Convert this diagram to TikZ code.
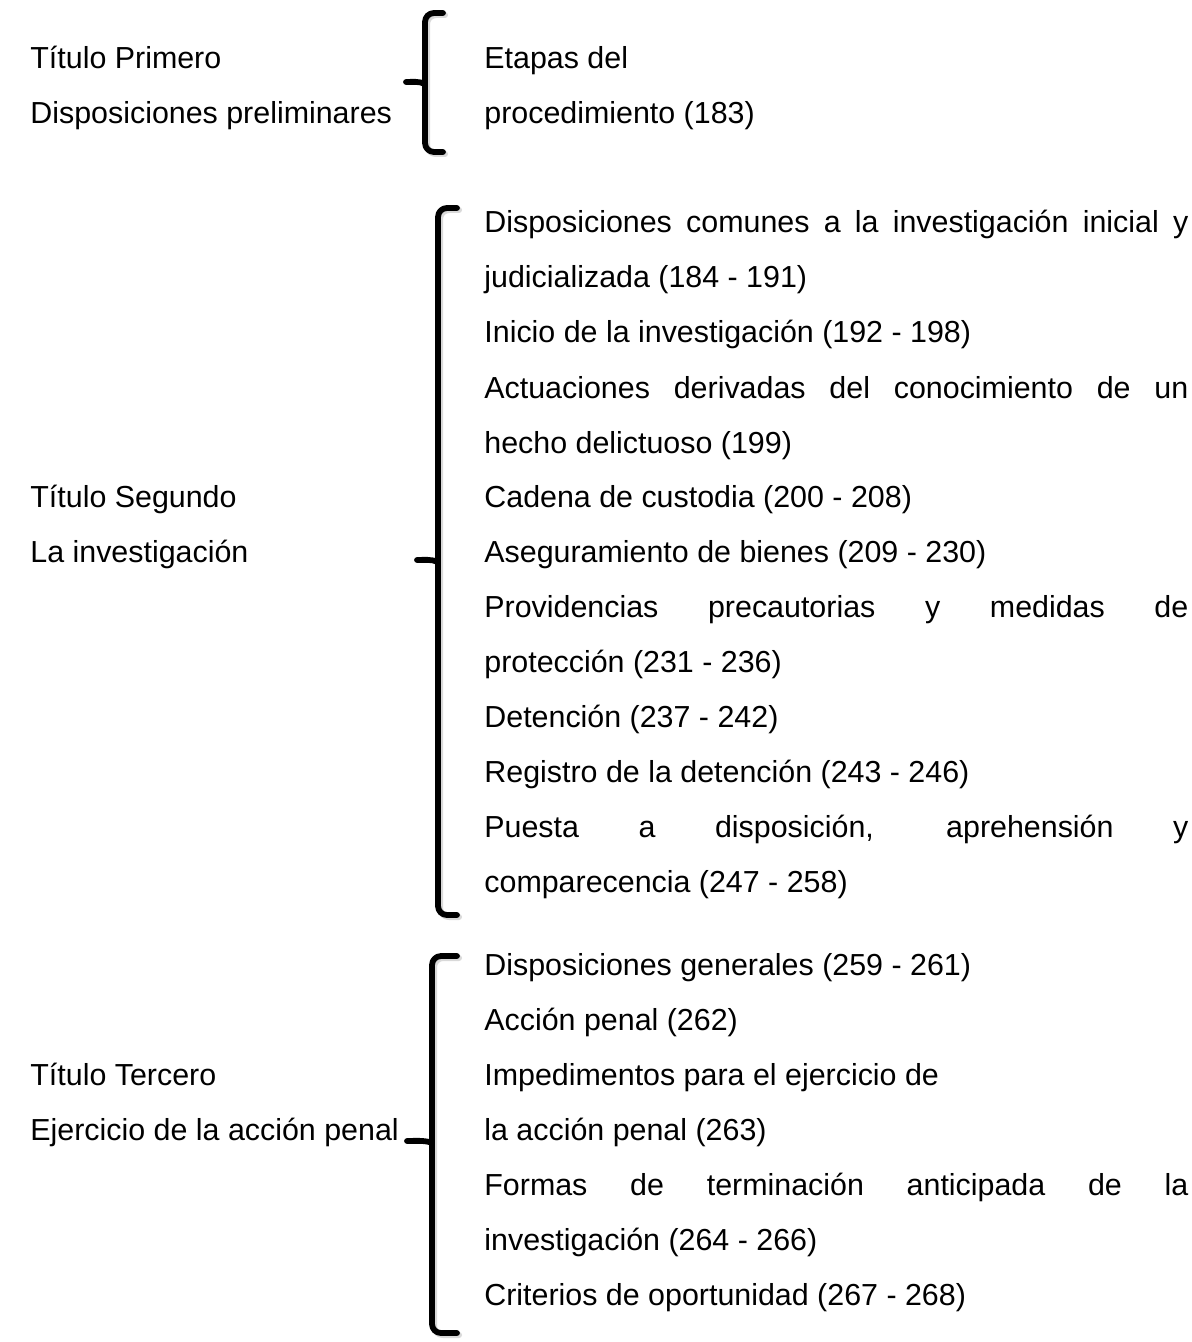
\documentclass[tikz,border=0pt]{standalone}
\usepackage{fontspec}
\setmainfont{Liberation Sans}
\begin{document}
\begin{tikzpicture}[x=0.5pt,y=-0.5pt,
  txt/.style={anchor=base west, inner sep=0pt, font=\fontsize{15.2pt}{18pt}\selectfont},
  brace/.style={line width=2.9pt, line cap=round, line join=round, rounded corners=4.5pt},
  shade/.style={line width=3pt, line cap=round, line join=round, rounded corners=4.5pt, black!15}]
\useasboundingbox (0,0) rectangle (1192,1342);
\fill[white] (0,0) rectangle (1192,1342);
\newcommand\jline[1]{\makebox[352pt][s]{#1}}

% Left column
\node[txt] (t1a) at (30,69) {Título Primero};
\node[txt] (t1b) at (30,124) {Disposiciones preliminares};
\node[txt] (t2a) at (30,507) {Título Segundo};
\node[txt] (t2b) at (30,562) {La investigación};
\node[txt] (t3a) at (30,1085) {Título Tercero};
\node[txt] (t3b) at (30,1140) {Ejercicio de la acción penal};

% Group 1
\node[txt] (a1) at (484,69) {Etapas del};
\node[txt] (a2) at (484,124) {procedimiento (183)};

% Group 2
\node[txt] (b1) at (484,233) {\jline{Disposiciones comunes a la investigación inicial y}};
\node[txt] (b2) at (484,288) {judicializada (184 - 191)};
\node[txt] (b3) at (484,343) {Inicio de la investigación (192 - 198)};
\node[txt] (b4) at (484,398) {\jline{Actuaciones derivadas del conocimiento de un}};
\node[txt] (b5) at (484,453) {hecho delictuoso (199)};
\node[txt] (b6) at (484,507) {Cadena de custodia (200 - 208)};
\node[txt] (b7) at (484,562) {Aseguramiento de bienes (209 - 230)};
\node[txt] (b8) at (484,617) {\jline{Providencias precautorias y medidas de}};
\node[txt] (b9) at (484,672) {protección (231 - 236)};
\node[txt] (b10) at (484,727) {Detención (237 - 242)};
\node[txt] (b11) at (484,782) {Registro de la detención (243 - 246)};
\node[txt] (b12) at (484,837) {\jline{Puesta a disposición, aprehensión y}};
\node[txt] (b13) at (484,892) {comparecencia (247 - 258)};

% Group 3
\node[txt] (c1) at (484,975) {Disposiciones generales (259 - 261)};
\node[txt] (c2) at (484,1030) {Acción penal (262)};
\node[txt] (c3) at (484,1085) {Impedimentos para el ejercicio de};
\node[txt] (c4) at (484,1140) {la acción penal (263)};
\node[txt] (c5) at (484,1195) {\jline{Formas de terminación anticipada de la}};
\node[txt] (c6) at (484,1250) {investigación (264 - 266)};
\node[txt] (c7) at (484,1305) {Criterios de oportunidad (267 - 268)};

% Braces
\foreach \x/\top/\bot/\mid/\tip/\hook in {425/13/152/84/406/443, 438/208/915/562/417/457, 432/956/1333/1143/407/457}{
  \draw[shade] (\hook+2,\top+2) -- (\x+2,\top+2) -- (\x+2,\bot+2) -- (\hook+2,\bot+2);
  \draw[brace] (\hook,\top) -- (\x,\top) -- (\x,\bot) -- (\hook,\bot);
  \draw[brace] (\x,\mid) .. controls (\x-6,\mid-3) and (\tip+6,\mid-2) .. (\tip,\mid-2);
}
\end{tikzpicture}
\end{document}
